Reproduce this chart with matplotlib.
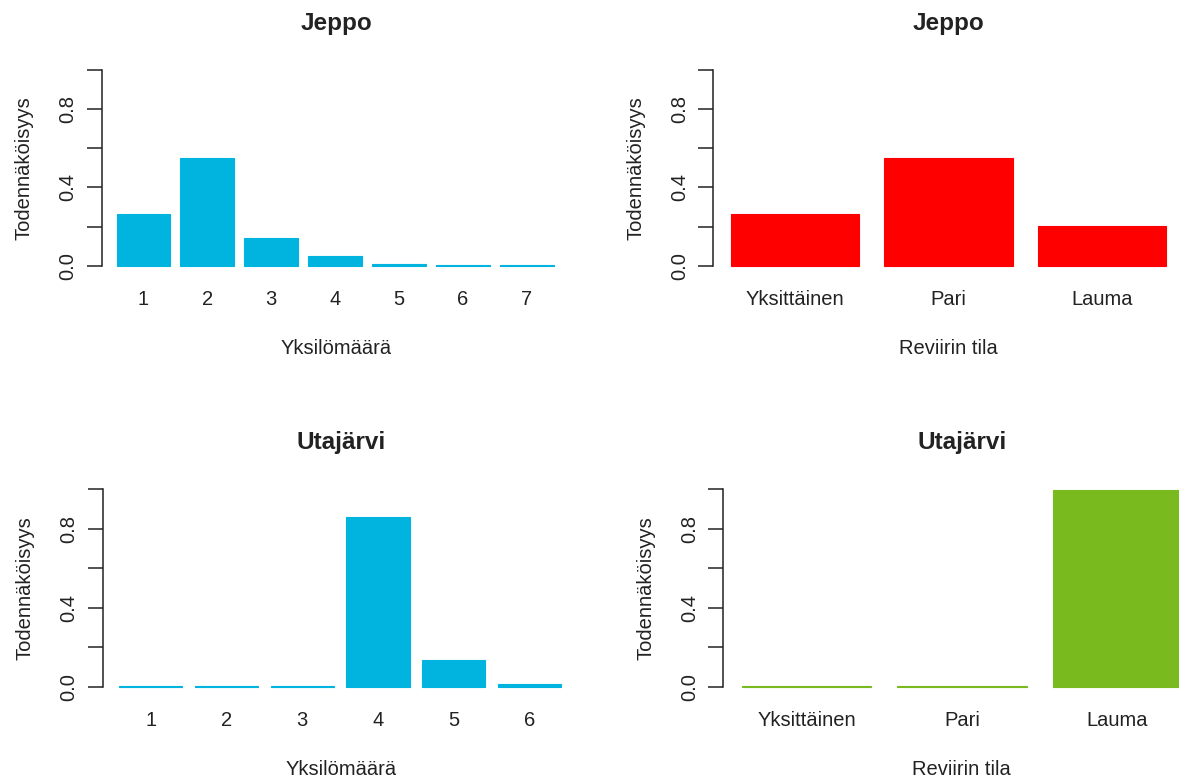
import matplotlib.pyplot as plt

plt.rcParams['font.family'] = ['Liberation Sans', 'DejaVu Sans']
plt.rcParams['text.color'] = '#222222'
plt.rcParams['xtick.color'] = '#222222'
plt.rcParams['ytick.color'] = '#222222'
plt.rcParams['axes.labelcolor'] = '#222222'

# Jeppo
jeppo_counts = ['1', '2', '3', '4', '5', '6', '7']
jeppo_count_probs = [0.264, 0.549, 0.143, 0.050, 0.010, 0.004, 0.003]
states = ['Yksittäinen', 'Pari', 'Lauma']
jeppo_state_probs = [0.264, 0.549, 0.204]

# Utajärvi
utajarvi_counts = ['1', '2', '3', '4', '5', '6']
utajarvi_count_probs = [0.003, 0.003, 0.003, 0.862, 0.135, 0.016]
utajarvi_state_probs = [0.003, 0.003, 0.996]

blue = '#00B4DF'
red = '#FF0000'
green = '#79BB1F'

W, H = 1179, 780
fig = plt.figure(figsize=(W / 100, H / 100), dpi=100)


def panel(title, names, vals, color, xlabel, axis_x, unit, bar_x, y0, y1):
    # R barplot style: width 1, space 0.2, 4% axis expansion
    n = len(vals)
    xl = 0.2 - (bar_x - axis_x) / unit
    xr = 1.2 * n + 0.04 * (1.2 * n - 0.2)
    span = y0 - y1
    bottom = y0 + 0.04 * span
    top = y1 - 0.04 * span
    right = axis_x + (xr - xl) * unit
    ax = fig.add_axes([axis_x / W, 1 - bottom / H, (right - axis_x) / W, (bottom - top) / H])
    ax.set_xlim(xl, xr)
    ax.set_ylim(-0.04, 1.04)

    centers = [0.7 + 1.2 * i for i in range(n)]
    ax.bar(centers, vals, width=1.0, color=color, edgecolor=color, linewidth=0.8)

    for s in ['top', 'right', 'bottom']:
        ax.spines[s].set_visible(False)
    ax.spines['left'].set_bounds(0, 1)
    ax.spines['left'].set_linewidth(1.1)
    ax.spines['left'].set_color('#222222')

    ax.set_yticks([0, 0.2, 0.4, 0.6, 0.8, 1.0])
    ax.set_yticklabels(['0.0', '', '0.4', '', '0.8', ''], rotation=90,
                       ha='center', va='center', fontsize=14.5)
    ax.tick_params(axis='y', length=11, width=1.1, pad=13.5)

    ax.set_xticks(centers)
    ax.set_xticklabels(names, fontsize=14.5)
    ax.tick_params(axis='x', length=0, pad=11.5)

    ax.set_xlabel(xlabel, fontsize=14.5, labelpad=22)
    ax.set_ylabel('Todennäköisyys', fontsize=14.5, labelpad=17.5)
    ax.set_title(title, fontsize=17.5, fontweight='bold', pad=23.5)
    return ax


panel('Jeppo', jeppo_counts, jeppo_count_probs, blue, 'Yksilömäärä',
      101.5, 53.3, 116.5, 265.7, 70.0)
panel('Jeppo', states, jeppo_state_probs, red, 'Reviirin tila',
      713.3, 128.2, 730.5, 265.7, 70.0)
panel('Utajärvi', utajarvi_counts, utajarvi_count_probs, blue, 'Yksilömäärä',
      102.7, 63.1, 119.3, 686.7, 489.3)
panel('Utajärvi', states, utajarvi_state_probs, green, 'Reviirin tila',
      723.3, 129.6, 741.7, 686.7, 489.3)

plt.savefig('out.png', dpi=100)
